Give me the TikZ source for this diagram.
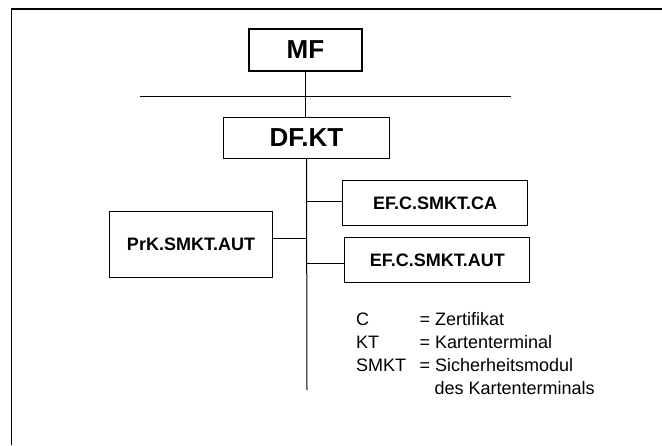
\documentclass[tikz,border=0pt]{standalone}
\usepackage{fontspec}
\setmainfont{Liberation Sans}
\tikzset{
  filebox/.style={
    draw,
    line width=1.3pt,
    inner sep=0pt,
    font=\fontsize{18}{20}\selectfont\bfseries
  },
  bigbox/.style={
    filebox,
    font=\fontsize{26}{28}\selectfont\bfseries
  },
  tree/.style={
    line width=1pt
  },
  legend/.style={
    anchor=base west,
    inner sep=0pt,
    font=\fontsize{18}{20}\selectfont
  }
}

\begin{document}
\begin{tikzpicture}[x=1pt,y=-1pt]
    \useasboundingbox (0,0) rectangle (662,445);
    % frame (only top and left edge visible)
    \draw[line width=1.8pt] (11.5,445) -- (11.5,9) -- (662,9);
    % files
    \node[bigbox, minimum width=113pt, minimum height=42pt] (mf) at (305.5,50) {MF};
    \node[bigbox, minimum width=166pt, minimum height=41pt] (dfkt) at (306.5,137.7) {DF.KT};
    \node[filebox, minimum width=185pt, minimum height=45pt] (efca) at (435,203) {EF.C.SMKT.CA};
    \node[filebox, minimum width=185pt, minimum height=45pt] (efaut) at (437.3,260.2) {EF.C.SMKT.AUT};
    \node[filebox, minimum width=163pt, minimum height=66pt] (prk) at (191,244.5) {PrK.SMKT.AUT};
    % tree
    \coordinate (hl) at (140,96.7);
    \coordinate (hr) at (511,96.7);
    \coordinate (bca) at (307,201.7);
    \coordinate (bprk) at (307,238.7);
    \coordinate (baut) at (307,263.3);
    \coordinate (tend) at (307,390);
    \draw[tree] (hl) -- (hr);
    \draw[tree] (mf.south) -- (mf.south |- dfkt.north);
    \draw[tree] (dfkt.south) -- (tend);
    \draw[tree] (bca) -- (bca -| efca.west);
    \draw[tree] (baut) -- (baut -| efaut.west);
    \draw[tree] (bprk) -- (bprk -| prk.east);
    % abbreviations
    \node[legend] (kc) at (356,325) {C};
    \node[legend] (kkt) at (356,348.5) {KT};
    \node[legend] (ksmkt) at (356,371) {SMKT};
    \node[legend] (vc) at (419.5,325) {= Zertifikat};
    \node[legend] (vkt) at (419.5,348.5) {= Kartenterminal};
    \node[legend] (vsmkt) at (419.5,371) {= Sicherheitsmodul};
    \node[legend] (vsmkt2) at (434.5,394) {des Kartenterminals};
\end{tikzpicture}
\end{document}
